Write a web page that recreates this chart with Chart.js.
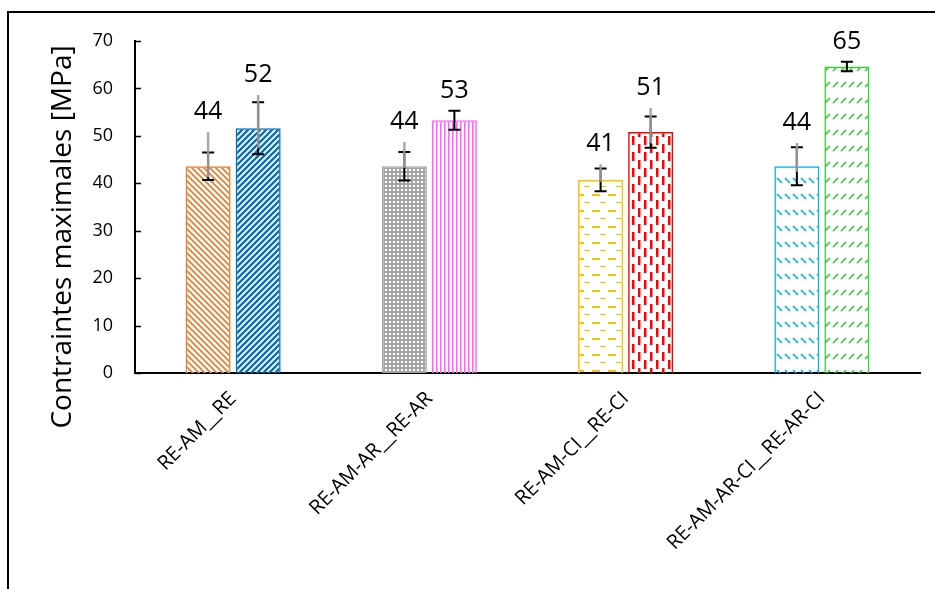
<!DOCTYPE html>
<html>
<head>
<meta charset="utf-8">
<title>Contraintes maximales</title>
<script src="https://cdn.jsdelivr.net/npm/chart.js@4"></script>
<style>
  body { margin: 0; background: #fff; }
  canvas { display: block; }
</style>
</head>
<body>
<canvas id="myChart" width="935" height="589"></canvas>
<script>
// data
const categories = ["RE-AM__RE", "RE-AM-AR__RE-AR", "RE-AM-CI__RE-CI", "RE-AM-AR-CI__RE-AR-CI"];
const leftValues = [43.6, 43.6, 40.7, 43.6];
const rightValues = [51.6, 53.3, 50.8, 64.6];
// black error bars (+/-)
const leftErr = [2.9, 3.0, 2.4, 4.0];
const rightErr = [5.5, 2.0, 3.3, 1.0];
// grey error lines (high / low), null when absent
const leftGreyHigh = [50.8, 48.7, 44.0, 48.5];
const leftGreyLow = [41.3, 43.2, 40.3, 42.4];
const rightGreyHigh = [58.6, null, 55.9, null];
const rightGreyLow = [47.4, null, 48.5, null];
const yTicks = [0, 10, 20, 30, 40, 50, 60, 70];

const FONT = "'Open Sans', 'Noto Sans', sans-serif";

// fill patterns, one per bar
function makePattern(type, color) {
  const c = document.createElement("canvas");
  const x = c.getContext("2d");
  let w = 6, h = 6;
  if (type == "dots") { w = 4; h = 4; }
  if (type == "vlines") { w = 4; h = 4; }
  if (type == "hdash") { w = 16; h = 16; }
  if (type == "vdash") { w = 12; h = 16; }
  if (type == "bsrow" || type == "fsrow") { w = 8; h = 16; }
  c.width = w; c.height = h;
  x.strokeStyle = color;
  x.fillStyle = color;
  if (type == "back") {
    x.lineWidth = 1.8;
    x.beginPath();
    x.moveTo(-1, -1); x.lineTo(w + 1, h + 1);
    x.moveTo(-1, h - 1); x.lineTo(1, h + 1);
    x.moveTo(w - 1, -1); x.lineTo(w + 1, 1);
    x.stroke();
  } else if (type == "fwd") {
    x.lineWidth = 2.3;
    x.beginPath();
    x.moveTo(-1, h + 1); x.lineTo(w + 1, -1);
    x.moveTo(-1, 1); x.lineTo(1, -1);
    x.moveTo(w - 1, h + 1); x.lineTo(w + 1, h - 1);
    x.stroke();
  } else if (type == "dots") {
    x.fillRect(0, 0, w, h);
    x.fillStyle = "#fff";
    x.fillRect(1, 1, 2, 2);
  } else if (type == "vlines") {
    x.fillRect(0, 0, 1.6, h);
  } else if (type == "hdash") {
    x.fillRect(0, 2, 8, 2);
    x.fillRect(8, 10, 6, 1);
  } else if (type == "vdash") {
    x.fillRect(2, 0, 2.5, 9);
    x.fillRect(8, 8, 2.5, 9);
    x.fillRect(8, -8, 2.5, 9);
  } else if (type == "bsrow") {
    x.lineWidth = 1.6;
    x.beginPath();
    x.moveTo(1, 2); x.lineTo(6, 7);
    x.stroke();
  } else if (type == "fsrow") {
    x.lineWidth = 1.6;
    x.beginPath();
    x.moveTo(1, 7); x.lineTo(6, 2);
    x.stroke();
  }
  return document.getElementById("myChart").getContext("2d").createPattern(c, "repeat");
}

const leftColors = ["#ED7D31", "#A5A5A5", "#FFC000", "#00B0F0"];
const rightColors = ["#0070C0", "#FF66FF", "#FF0000", "#33CC33"];
const leftFill = [
  makePattern("back", "#ED7D31"),
  makePattern("dots", "#A5A5A5"),
  makePattern("hdash", "#FFC000"),
  makePattern("bsrow", "#00B0F0"),
];
const rightFill = [
  makePattern("fwd", "#0070C0"),
  makePattern("vlines", "#FF66FF"),
  makePattern("vdash", "#FF0000"),
  makePattern("fsrow", "#33CC33"),
];

// error bars + value labels
const errorBars = {
  id: "errorBars",
  afterDatasetsDraw(chart) {
    const ctx = chart.ctx;
    const y = chart.scales.y;
    const sets = [
      [leftValues, leftErr, leftGreyHigh, leftGreyLow],
      [rightValues, rightErr, rightGreyHigh, rightGreyLow],
    ];
    sets.forEach((s, i) => {
      const meta = chart.getDatasetMeta(i);
      meta.data.forEach((bar, j) => {
        const v = s[0][j], e = s[1][j];
        const px = bar.x;
        const top = y.getPixelForValue(v + e);
        const bot = y.getPixelForValue(v - e);
        ctx.save();
        ctx.strokeStyle = "#000";
        ctx.lineWidth = 2;
        ctx.beginPath();
        ctx.moveTo(px, top); ctx.lineTo(px, bot);
        ctx.moveTo(px - 6, top); ctx.lineTo(px + 6, top);
        ctx.moveTo(px - 6, bot); ctx.lineTo(px + 6, bot);
        ctx.stroke();
        let hi = v + e;
        if (s[2][j] != null) {
          ctx.strokeStyle = "rgba(160,160,160,0.9)";
          ctx.lineWidth = 2.5;
          ctx.beginPath();
          ctx.moveTo(px, y.getPixelForValue(s[2][j]));
          ctx.lineTo(px, y.getPixelForValue(s[3][j]));
          ctx.stroke();
          hi = Math.max(hi, s[2][j]);
        }
        ctx.fillStyle = "#000";
        ctx.font = "25px " + FONT;
        ctx.textAlign = "center";
        ctx.textBaseline = "middle";
        ctx.fillText(String(Math.round(v)), px, y.getPixelForValue(hi) - 20);
        ctx.restore();
      });
    });
  },
  afterDraw(chart) {
    const ctx = chart.ctx;
    const y = chart.scales.y;
    const a = chart.chartArea;
    ctx.save();
    // inside tick marks on y axis
    ctx.strokeStyle = "#000";
    ctx.lineWidth = 1.5;
    ctx.beginPath();
    yTicks.forEach((t) => {
      const py = Math.round(y.getPixelForValue(t)) + 0.5;
      ctx.moveTo(a.left, py);
      ctx.lineTo(a.left + 6, py);
    });
    ctx.stroke();
    // y axis title
    ctx.translate(63, 237);
    ctx.rotate(-Math.PI / 2);
    ctx.font = "28px " + FONT;
    ctx.textAlign = "center";
    ctx.textBaseline = "middle";
    ctx.fillText("Contraintes maximales [MPa]", 0, 0);
    ctx.restore();
    // outer frame
    ctx.save();
    ctx.strokeStyle = "#000";
    ctx.lineWidth = 2;
    ctx.beginPath();
    ctx.moveTo(8, 589); ctx.lineTo(8, 12); ctx.lineTo(935, 12);
    ctx.stroke();
    ctx.restore();
  },
};

const config = {
  type: "bar",
  data: {
    labels: categories,
    datasets: [
      {
        data: leftValues,
        backgroundColor: leftFill,
        borderColor: leftColors,
        borderWidth: 1.5,
        categoryPercentage: 0.51,
        barPercentage: 0.9,
      },
      {
        data: rightValues,
        backgroundColor: rightFill,
        borderColor: rightColors,
        borderWidth: 1.5,
        categoryPercentage: 0.51,
        barPercentage: 0.9,
      },
    ],
  },
  options: {
    responsive: false,
    devicePixelRatio: 1,
    animation: false,
    layout: { padding: { top: 41, right: 15, left: 0, bottom: 0 } },
    plugins: { legend: { display: false }, tooltip: { enabled: false } },
    scales: {
      x: {
        grid: { display: false },
        border: { color: "#000", width: 2 },
        ticks: {
          color: "#000",
          font: { family: FONT, size: 20 },
          maxRotation: 45,
          minRotation: 45,
          padding: 6,
        },
        afterFit(s) { s.height = 216; },
      },
      y: {
        min: 0,
        max: 70,
        grid: { display: false },
        border: { color: "#000", width: 2 },
        ticks: {
          stepSize: 10,
          color: "#000",
          font: { family: FONT, size: 18 },
          padding: 14,
        },
        afterFit(s) { s.width = 135; },
      },
    },
  },
  plugins: [errorBars],
};

const myChart = new Chart(document.getElementById("myChart"), config);
</script>
</body>
</html>
